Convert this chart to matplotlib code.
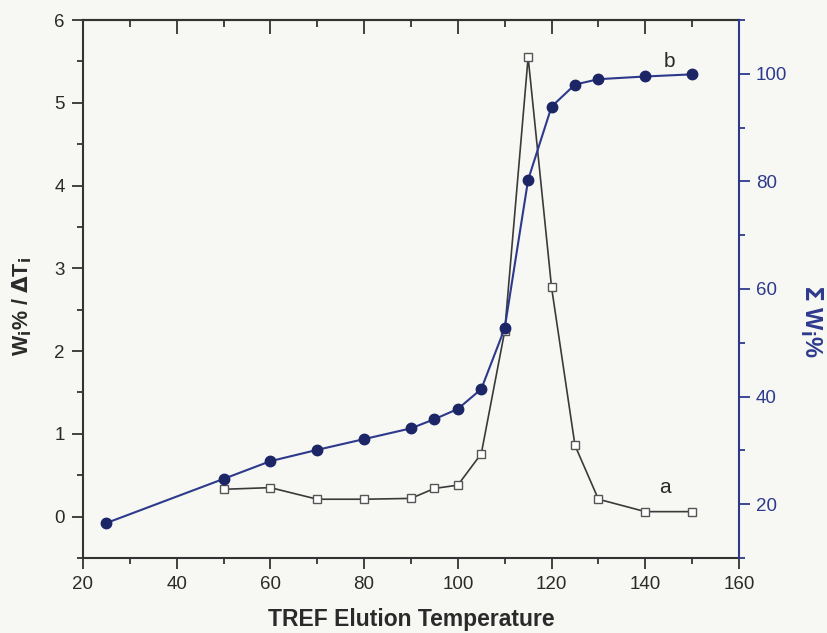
import matplotlib
matplotlib.use("Agg")
import matplotlib.pyplot as plt
from matplotlib.ticker import MultipleLocator

plt.rcParams["font.family"] = ["Liberation Sans", "DejaVu Sans"]

# TREF fractions: elution temperature, differential and cumulative weight
temps_a = [50, 60, 70, 80, 90, 95, 100, 105, 110, 115, 120, 125, 130, 140, 150]
w_per_dt = [0.33, 0.35, 0.21, 0.21, 0.22, 0.34, 0.38, 0.76, 2.24, 5.55, 2.77, 0.86, 0.21, 0.06, 0.06]

temps_b = [25, 50, 60, 70, 80, 90, 95, 100, 105, 110, 115, 120, 125, 130, 140, 150]
cum_w = [16.5, 24.7, 28.0, 30.1, 32.1, 34.1, 35.8, 37.7, 41.4, 52.7, 80.3, 93.9, 98.0, 99.0, 99.5, 99.9]

BG = "#f7f7f3"
INK = "#2a2a2a"
BLUE = "#2d3a8c"
DOT = "#1c2565"

fig = plt.figure(figsize=(8.28, 6.33), dpi=100, facecolor=BG)
ax = fig.add_axes([0.1002, 0.1185, 0.7923, 0.8499], facecolor=BG)

ax.plot(temps_a, w_per_dt, color="#3a3a3a", lw=1.2, marker="s", ms=6,
        mfc="white", mec="#555555", mew=1.0, zorder=2)

ax.set_xlim(20, 160)
ax.set_ylim(-0.5, 6)
ax.xaxis.set_major_locator(MultipleLocator(20))
ax.xaxis.set_minor_locator(MultipleLocator(10))
ax.yaxis.set_major_locator(MultipleLocator(1))
ax.yaxis.set_minor_locator(MultipleLocator(0.5))
ax.tick_params(which="both", direction="out", labelsize=13.5, color="#333333",
               width=1.3, labelcolor=INK)
ax.tick_params(which="major", length=8, pad=5)
ax.tick_params(which="minor", length=4)
for side in ("left", "bottom", "top"):
    ax.spines[side].set_linewidth(1.5)
    ax.spines[side].set_color("#333333")
ax.spines["right"].set_visible(False)

# inward ticks along the top edge
top = ax.secondary_xaxis("top")
top.xaxis.set_major_locator(MultipleLocator(20))
top.xaxis.set_minor_locator(MultipleLocator(10))
top.tick_params(which="both", direction="in", labeltop=False, color="#333333", width=1.3)
top.tick_params(which="major", length=10)
top.tick_params(which="minor", length=5)
top.spines["top"].set_linewidth(1.5)
top.spines["top"].set_color("#333333")

ax.set_xlabel("TREF Elution Temperature", fontsize=16.5, fontweight="bold",
              color=INK, va="center")
ax.xaxis.set_label_coords(0.5, -0.115)
ax.set_ylabel(r"W$_\mathbf{i}$% / $\mathbf{\Delta}$T$_\mathbf{i}$", fontsize=15.5,
              fontweight="bold", color=INK, va="center")
ax.yaxis.set_label_coords(-0.093, 0.468)

ax2 = ax.twinx()
ax2.plot(temps_b, cum_w, color=BLUE, lw=1.5, marker="o", ms=7.5,
         mfc=DOT, mec=DOT, zorder=3)
ax2.set_ylim(10, 110)
ax2.yaxis.set_major_locator(MultipleLocator(20))
ax2.yaxis.set_minor_locator(MultipleLocator(10))
ax2.tick_params(which="both", direction="out", labelsize=13.5, color=BLUE,
                labelcolor=BLUE, width=1.3)
ax2.tick_params(which="major", length=8, pad=4)
ax2.tick_params(which="minor", length=4)
for side in ("left", "bottom", "top"):
    ax2.spines[side].set_visible(False)
ax2.spines["right"].set_color(BLUE)
ax2.spines["right"].set_linewidth(1.5)
ax2.set_ylabel(r"$\mathbf{\Sigma}$ W$_\mathbf{i}$%", fontsize=17, fontweight="bold",
               color=BLUE, rotation=270, va="center", ha="center")
ax2.yaxis.set_label_coords(1.11, 0.44)

ax.text(144.3, 0.35, "a", fontsize=15, color=INK, ha="center", va="center")
ax.text(145.2, 5.5, "b", fontsize=15, color=INK, ha="center", va="center")

fig.savefig("out.png", dpi=100, facecolor=BG)
